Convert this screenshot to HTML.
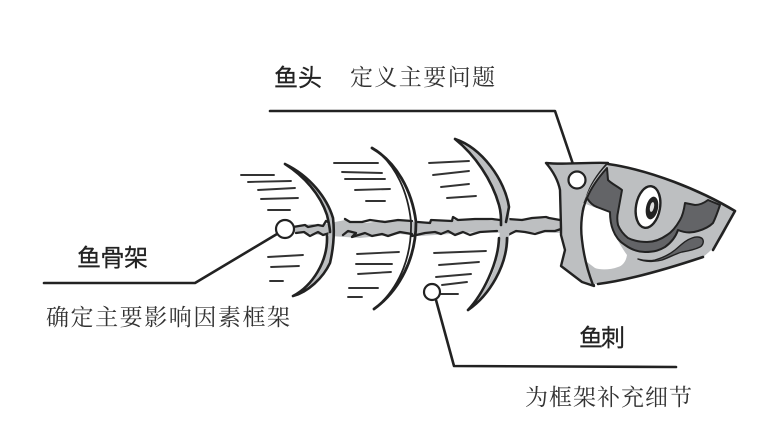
<!DOCTYPE html>
<html lang="zh">
<head>
<meta charset="utf-8">
<style>
html,body{margin:0;padding:0;background:#fff}
svg{display:block}
.t{font-family:"Liberation Sans","Noto Sans CJK SC",sans-serif;font-size:24px;fill:#222;font-weight:400;stroke:#222;stroke-width:.25px}
.h{font-family:"Liberation Serif","Noto Serif CJK SC",serif;font-size:23px;fill:#333}
</style>
</head>
<body>
<svg width="774" height="423" viewBox="0 0 774 423" xmlns="http://www.w3.org/2000/svg">
<rect width="774" height="423" fill="#fff"/>
<g fill="none" stroke="#222" stroke-linecap="round" stroke-linejoin="round">
<!-- spine -->
<path d="M294,226 L312,224 L320,225 L345,220 L365,223 L390,220 L420,222 L450,220 L475,219 L500,221 L530,218 L560,219 L560,233 L530,232 L505,233 L480,232 L450,234 L420,236 L400,234 L360,238 L330,236 L312,234 L294,232 Z" fill="#bdbfc1" stroke="none"/>
<path d="M293,227 L305,225 L308,227 L318,225 L323,226 L326,221 L332,224 M345,219 L350,222 L362,222 L370,220 L385,222 L398,220 L412,221 M418,222 L430,223 L431,220 L452,221 L453,217 L458,220 L475,219 L492,219 L500,220 M508,219 L522,220 L532,218 L546,217 L549,218 L560,220" stroke-width="2.3"/>
<path d="M296,233 L304,232 L310,236 L318,232 L323,235 L330,233 M343,235 L348,231 L356,233 L352,237 L365,233 L372,236 L382,234 L388,236 L400,232 L412,234 M412,236 L425,233 L435,232 L441,234 L448,231 L455,235 L463,232 L470,235 L480,232 L497,231 M508,235 L516,231 L525,232 L535,234 L545,231 L555,231 L561,229" stroke-width="2.3"/>
<!-- rib 1 -->
<path d="M285,164 C310,176 327,198 333,218 C335,235 333,250 330,263 C323,278 308,292 293,296 C310,284 322,268 327,248 C329,234 329,224 327,215 C320,194 304,176 285,164 Z" fill="#bdbfc1" stroke="none"/>
<path d="M285,164 C310,176 327,198 333,218 M285,164 C304,176 320,194 327,215 C329,224 330,228 330,232 M333,218 C335,235 333,250 330,263 C323,278 308,292 293,296 M327,236 C328,262 312,286 293,296" stroke-width="2.6"/>
<!-- rib 2 -->
<path d="M372,148 C396,162 412,190 416,222 C416,258 400,290 374,309" stroke-width="2.8"/>
<path d="M376,150 C396,166 408,192 411,222 C412,256 400,284 381,303" stroke-width="1.8"/>
<!-- rib 3 -->
<path d="M455,139 C482,148 505,180 509,207 C510,225 510,245 505,258 C498,280 485,298 468,310 C486,292 497,270 499,245 C500,225 501,215 499,205 C492,180 475,155 455,139 Z" fill="#bdbfc1" stroke="none"/>
<path d="M455,139 C482,148 505,180 509,207 L506,222 M455,139 C475,155 492,180 499,205 C501,212 501,218 501,225 M507,238 C507,265 490,295 468,310 M499,238 C498,265 482,295 468,310" stroke-width="2.6"/>
<!-- hatches -->
<g stroke-width="1.9" stroke="#333">
<path d="M241,175 L274,175 M248,182 L291,181 M258,190 L295,188 M261,199 L298,198 M268,210 L290,210"/>
<path d="M268,257 L303,255 M271,267 L299,266 M270,281 L283,281"/>
<path d="M334,163 L378,163 M342,172 L382,173 M345,179 L385,179 M355,190 L390,189 M366,201 L385,201"/>
<path d="M357,254 L399,252 M356,264 L392,264 M358,274 L391,272 M349,288 L378,288 M348,297 L362,297"/>
<path d="M429,163 L469,161 M433,175 L469,171 M441,187 L469,184 M447,198 L476,196"/>
<path d="M434,253 L486,251 M439,265 L479,262 M436,277 L471,274 M442,285 L467,282 M441,294 L458,294"/>
</g>
<!-- connectors -->
<path d="M270,111 L555,111 L575,170" stroke-width="2.6"/>
<path d="M44,283 L195,283 L277,234" stroke-width="2.6"/>
<path d="M436,300 L454,366 L676,367" stroke-width="2.6"/>
<!-- gill plate -->
<path d="M546,163 C565,165 590,162 608,163 C597,175 590,186 587,197 C581,210 581,225 583,240 C586,258 590,272 594,286 L582,282 L561,266 L565,250 L561,235 L561,228 L560,190 C558,180 552,170 546,163 Z" fill="#bdbfc1" stroke="#222" stroke-width="2.4"/>
<!-- head -->
<path d="M608,164 C650,170 700,190 735,211 L725,232 C720,242 712,250 703,257 C670,268 630,280 598,284 L592,284 C585,265 581,240 582,217 C582,197 596,176 608,164 Z" fill="#bdbfc1" stroke="none"/>
<path d="M608,164 C650,170 700,190 735,211 L713,250 M703,257 C670,268 630,280 598,284" stroke-width="2.6"/>
<!-- white cheek -->
<path d="M583,203 L610,213 L613,230 C617,240 622,248 627,255 C626,262 622,266 618,267 C610,270 600,270 595,268 L587,262 C582,245 581,220 583,203 Z" fill="#fff" stroke="none"/>
<path d="M587,198 C582,208 580,225 582,240 C584,258 588,272 593,285" stroke-width="2.4"/>
<!-- dark band -->
<path d="M607,168 C598,178 591,188 587,198 C590,203 594,206 597,207 L610,212 C610,220 611,225 613,230 C616,238 620,242 625,245 C632,250 638,252 645,252 C655,252 660,250 665,247 C672,242 676,236 678,230 C685,233 692,233 698,231 C705,229 710,226 713,223 C716,217 718,211 720,205 L708,200 C704,203 700,205 695,205 L685,203 C684,210 683,215 680,220 C676,227 672,232 667,235 C660,240 653,242 647,242 C640,242 634,241 628,238 C623,234 620,230 618,225 C617,220 617,216 618,212 L622,190 C617,186 612,184 608,180 Z" fill="#636467" stroke="#222" stroke-width="2"/>
<!-- eye -->
<ellipse cx="648" cy="207" rx="12" ry="21" transform="rotate(10 648 207)" fill="#fff" stroke="#222" stroke-width="2.4"/>
<ellipse cx="652" cy="208" rx="6" ry="11.5" transform="rotate(12 652 208)" fill="#222" stroke="none"/>
<ellipse cx="652" cy="207" rx="2" ry="5" transform="rotate(12 652 207)" fill="#ddd" stroke="none"/>
<!-- fin -->
<path d="M638,259 C645,261 650,261 655,260 C662,258 670,254 675,250 C682,244 686,240 692,238 C697,236 702,237 703,240 C704,243 702,246 700,247 C694,250 688,251 682,252 C675,254 668,258 662,260 C655,262 645,262 638,259 Z" fill="#636467" stroke="#222" stroke-width="1.4"/>
<!-- circles -->
<circle cx="285" cy="229" r="9" fill="#fff" stroke-width="2.2"/>
<circle cx="577" cy="180" r="8.5" fill="#fff" stroke-width="2.2"/>
<circle cx="432" cy="292" r="8" fill="none" stroke-width="2.2"/>
</g>
<text class="t" x="274" y="86" textLength="48">鱼头</text>
<text class="h" x="350" y="85" textLength="145">定义主要问题</text>
<text class="t" x="77" y="266" textLength="71">鱼骨架</text>
<text class="h" x="46" y="325" textLength="244">确定主要影响因素框架</text>
<text class="t" x="579" y="346" textLength="46">鱼刺</text>
<text class="h" x="525" y="405" textLength="167">为框架补充细节</text>
</svg>
</body>
</html>
